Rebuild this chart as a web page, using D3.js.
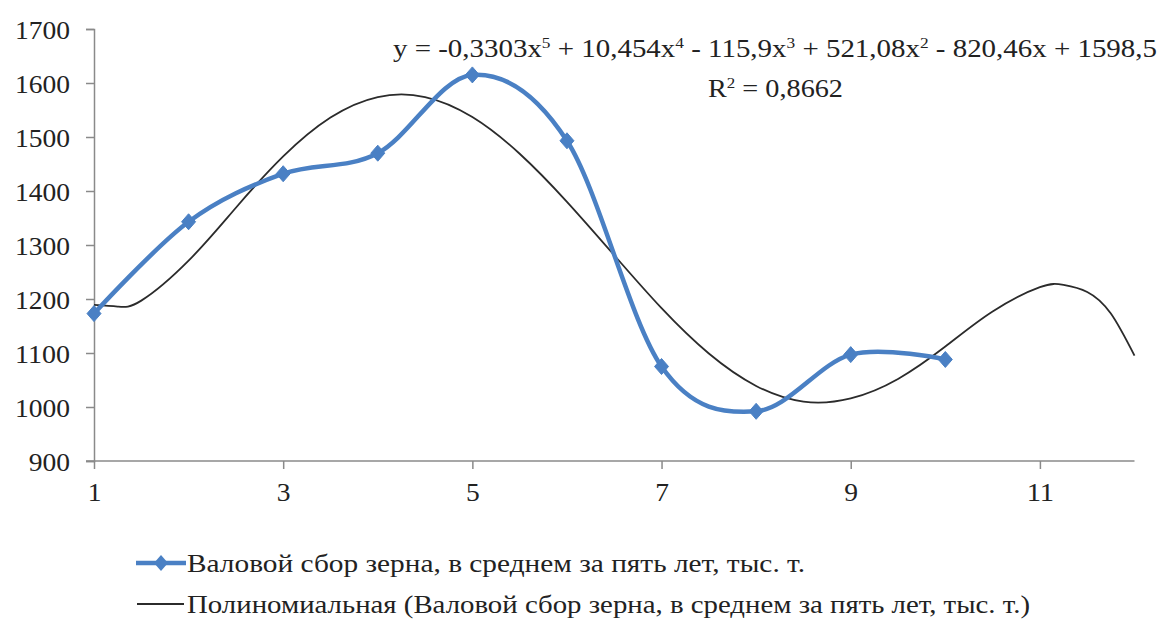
<!DOCTYPE html>
<html>
<head>
<meta charset="utf-8">
<script src="https://cdn.jsdelivr.net/npm/d3@7"></script>
<style>
  html, body { margin: 0; padding: 0; background: #fff; }
  svg { display: block; }
  svg text { font-family: 'Liberation Serif', Tinos, 'Times New Roman', Times, 'DejaVu Serif', serif !important; fill: #222; }
</style>
</head>
<body>
<svg id="chart" width="1158" height="622"></svg>
<script>
// ---- Data ----
const periods = [1, 2, 3, 4, 5, 6, 7, 8, 9, 10];
const grainHarvest = [1173, 1343, 1432, 1470, 1615, 1493, 1075, 992, 1097, 1088];

// Trendline values
const trendX = [1, 1.25, 1.5, 2, 2.5, 3, 3.5, 4, 4.5, 5, 5.5, 6, 6.5, 7, 7.5, 8, 8.5, 9, 9.5, 10, 10.5, 11, 11.25, 11.5, 11.75, 12];
const trendY = [1189, 1186, 1197, 1271, 1369, 1464, 1536, 1574, 1574, 1537, 1469, 1380, 1281, 1183, 1099, 1039, 1010, 1016, 1052, 1112, 1177, 1222, 1226, 1213, 1173, 1095];

const yTicks = [900, 1000, 1100, 1200, 1300, 1400, 1500, 1600, 1700];
const xTicks = [1, 3, 5, 7, 9, 11];

const seriesName = "Валовой сбор зерна, в среднем за пять лет, тыс. т.";
const trendName = "Полиномиальная (Валовой сбор зерна, в среднем за пять лет, тыс. т.)";
const eqParts = [
  ["y = -0,3303x", "5"], [" + 10,454x", "4"], [" - 115,9x", "3"], [" + 521,08x", "2"], [" - 820,46x + 1598,5", null]
];
const r2Parts = [["R", "2"], [" = 0,8662", null]];

// ---- Layout ----
const svg = d3.select("#chart");
const x = d3.scaleLinear().domain([1, 12]).range([94, 1134.5]);
const y = d3.scaleLinear().domain([900, 1700]).range([461, 29]);
const axisColor = "#8a8a8a";
const blue = "#4a80c4";
const fontStack = "'Liberation Serif', Tinos, 'Times New Roman', Times, 'DejaVu Serif', serif";
const fs = 26;
const digitW = 13.75;

function fit(sel, w) {
  sel.attr("textLength", w).attr("lengthAdjust", "spacingAndGlyphs");
}

// Y axis
const yAxis = svg.append("g").attr("transform", `translate(${x(1)},0)`)
  .call(d3.axisLeft(y).tickValues(yTicks).tickSize(8).tickPadding(16).tickFormat(d3.format("d")));
yAxis.attr("font-family", fontStack);
yAxis.select(".domain").attr("stroke", axisColor).attr("stroke-width", 1.5);
yAxis.selectAll(".tick line").attr("stroke", axisColor).attr("stroke-width", 1.5);
yAxis.selectAll(".tick text").attr("font-size", fs).attr("fill", "#222").attr("dy", "0.36em")
  .style("font-family", fontStack)
  .each(function (d) { fit(d3.select(this), String(d).length * digitW); });

// X axis
const xAxis = svg.append("g").attr("transform", `translate(0,${y(900)})`)
  .call(d3.axisBottom(x).tickValues(xTicks).tickSize(8).tickPadding(14).tickFormat(d3.format("d")));
xAxis.attr("font-family", fontStack);
xAxis.select(".domain").attr("stroke", axisColor).attr("stroke-width", 1.5).attr("d", `M${x(1) - 8},0H${x(12)}`);
xAxis.selectAll(".tick line").attr("stroke", axisColor).attr("stroke-width", 1.5);
xAxis.selectAll(".tick text").attr("font-size", fs).attr("fill", "#222")
  .style("font-family", fontStack)
  .each(function (d) { fit(d3.select(this), String(d).length * digitW); });

// Trendline
const trendData = trendX.map((v, i) => [v, trendY[i]]);
svg.append("path").datum(trendData)
  .attr("fill", "none").attr("stroke", "#2b2b2b").attr("stroke-width", 1.8)
  .attr("d", d3.line().x(d => x(d[0])).y(d => y(d[1])).curve(d3.curveNatural));

// Series
const seriesData = periods.map((p, i) => [p, grainHarvest[i]]);
svg.append("path").datum(seriesData)
  .attr("fill", "none").attr("stroke", blue).attr("stroke-width", 4.5)
  .attr("stroke-linejoin", "round")
  .attr("d", d3.line().x(d => x(d[0])).y(d => y(d[1])).curve(d3.curveCardinal.tension(0)));

const diamond = (cx, cy, w, h) => `M${cx},${cy - h}L${cx + w},${cy}L${cx},${cy + h}L${cx - w},${cy}Z`;
svg.append("g").selectAll("path").data(seriesData).join("path")
  .attr("fill", blue).attr("stroke", blue).attr("stroke-width", 1)
  .attr("d", d => diamond(x(d[0]), y(d[1]), 7, 8));

// Equation text
function richText(g, parts, cx, baseline, width) {
  const t = g.append("text").attr("x", cx).attr("y", baseline).attr("text-anchor", "middle")
    .attr("font-size", fs).style("font-family", fontStack);
  let raised = false;
  parts.forEach(([main, sup]) => {
    t.append("tspan").text(main).attr("dy", raised ? fs * 0.36 : 0);
    raised = false;
    if (sup) {
      t.append("tspan").text(sup).attr("font-size", fs * 0.6).attr("dy", -fs * 0.36);
      raised = true;
    }
  });
  fit(t, width);
  return t;
}
const eqG = svg.append("g");
richText(eqG, eqParts, 775, 57, 764);
richText(eqG, r2Parts, 775.5, 97, 135);

// Legend
const leg = svg.append("g");
leg.append("line").attr("x1", 136).attr("x2", 186).attr("y1", 563).attr("y2", 563)
  .attr("stroke", blue).attr("stroke-width", 4.5);
leg.append("path").attr("d", diamond(161, 563, 7, 8)).attr("fill", blue);
fit(leg.append("text").attr("x", 187).attr("y", 572).attr("font-size", fs)
  .style("font-family", fontStack).text(seriesName), 618);
leg.append("line").attr("x1", 137).attr("x2", 184).attr("y1", 604).attr("y2", 604)
  .attr("stroke", "#2b2b2b").attr("stroke-width", 1.8);
fit(leg.append("text").attr("x", 187).attr("y", 613).attr("font-size", fs)
  .style("font-family", fontStack).text(trendName), 843);
</script>
</body>
</html>
